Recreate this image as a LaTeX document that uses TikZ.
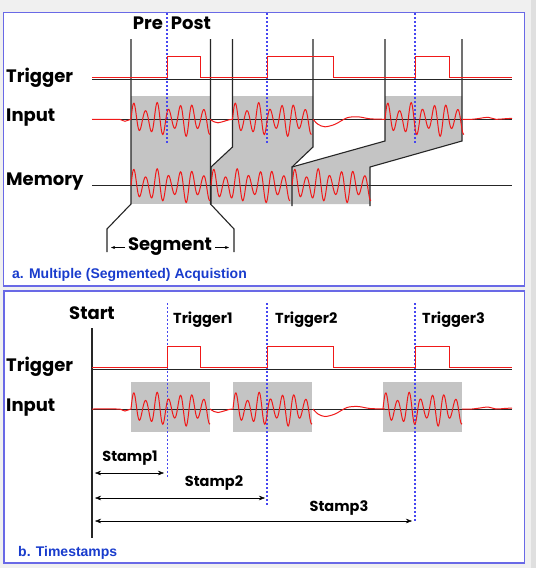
\documentclass[tikz,border=0pt]{standalone}
\usepackage{fontspec}
\usetikzlibrary{arrows.meta}
\newfontfamily\labfont{Poppins}
\newfontfamily\capfont{Liberation Sans}
\definecolor{panelblue}{RGB}{105,105,230}
\definecolor{dotblue}{RGB}{70,70,240}
\definecolor{sigred}{RGB}{240,25,25}
\definecolor{seggray}{RGB}{196,196,196}
\definecolor{capblue}{RGB}{25,60,205}
\definecolor{bggray}{RGB}{240,240,240}
\begin{document}
\begin{tikzpicture}[x=1pt,y=-1pt,>={Stealth[length=6pt,width=4.5pt]}]
\tikzstyle{lab}=[font={\labfont\bfseries\fontsize{18}{20}\selectfont},inner sep=0pt]
\tikzstyle{small}=[font={\labfont\bfseries\fontsize{14.5}{16}\selectfont},inner sep=0pt]
\tikzstyle{captext}=[font={\capfont\bfseries\fontsize{14}{16}\selectfont},text=capblue,inner sep=0pt,anchor=west]
\tikzstyle{panel}=[draw=panelblue,line width=1.4pt,fill=white]
\tikzstyle{base}=[black!85,line width=1pt]
\tikzstyle{bar}=[black!85,line width=1.1pt]
\tikzstyle{wave}=[sigred,line width=1pt]
\tikzstyle{trigline}=[dotblue,dash pattern=on 2pt off 2pt,line width=1.2pt]
\fill[bggray] (0,0) rectangle (536,568);
\fill[gray!25] (531,0) rectangle (536,568);
\draw[panel] (3.5,12.5) rectangle (524.5,286);
\draw[panel] (4,291) rectangle (524.5,563);

\fill[seggray] (131,96) rectangle (210.5,204);
\fill[seggray] (232.5,96) -- (313,96) -- (313,147) -- (292,167) -- (292,204) -- (211,204) -- (211,167) -- (232.5,147) -- cycle;
\fill[seggray] (385,96) -- (462,96) -- (462,141) -- (370,167) -- (370,204) -- (292,204) -- (292,167) -- (385,141) -- cycle;
\fill[seggray] (131,382) rectangle (210,432);
\fill[seggray] (233,382) rectangle (312,432);
\fill[seggray] (383,382) rectangle (462,432);

\node[lab,anchor=west] (trigA) at (6,78) {Trigger};
\node[lab,anchor=west] (inA) at (6,118) {Input};
\node[lab,anchor=west] (memA) at (6,182) {Memory};
\node[lab] (pre) at (148,23) {Pre};
\node[lab] (post) at (191,23) {Post};
\node[lab] (seg) at (170,247) {Segment};
\node[captext] (capA) at (12,275) {a. Multiple (Segmented) Acquistion};

\node[lab,anchor=west] (trigB) at (6,367) {Trigger};
\node[lab,anchor=west] (inB) at (6,408) {Input};
\node[lab] (start) at (92,313) {Start};
\node[small,anchor=west] (t1) at (173,320) {Trigger1};
\node[small,anchor=west] (t2) at (275,320) {Trigger2};
\node[small,anchor=west] (t3) at (422,320) {Trigger3};
\node[small] (s1) at (130,458) {Stamp1};
\node[small] (s2) at (214,483) {Stamp2};
\node[small] (s3) at (339,508) {Stamp3};
\node[captext] (capB) at (18,553) {b. Timestamps};

\foreach \y in {79.3,119.3,185.5,369,409}
  \draw[base] (92,\y) -- (512,\y);

\draw[bar] (131,39) -- (131,204) -- (107,229) -- (107,252);
\draw[bar] (210.5,39) -- (210.5,204) -- (234,229) -- (234,252);
\draw[bar] (232.5,39) -- (232.5,147) -- (211,167) -- (211,204);
\draw[bar] (313,39) -- (313,147) -- (292,167) -- (292,206);
\draw[bar] (385,39) -- (385,141) -- (292,167);
\draw[bar] (462,39) -- (462,141) -- (370,167) -- (370,206);
\draw[bar] (92,328) -- (92,538);

\draw[-{Stealth[length=4pt,width=3pt]}] (125,247.5) -- (111,247.5);
\draw[-{Stealth[length=4pt,width=3pt]}] (215,247.5) -- (229,247.5);

\foreach \x/\e in {167/143,267/143,415/143}
  \draw[trigline] (\x,13) -- (\x,\e);
\foreach \x/\e in {167.5/478,267/505,415/522}
  \draw[trigline] (\x,303) -- (\x,\e);

\foreach \y/\h in {77/56,367/346}
  \draw[wave] (92,\y) -- (167,\y) -- (167,\h) -- (200,\h) -- (200,\y) -- (267,\y) -- (267,\h) -- (333,\h) -- (333,\y) -- (415,\y) -- (415,\h) -- (449,\h) -- (449,\y) -- (512,\y);

\foreach \b in {119.3,409}
{
  \draw[wave] plot[smooth] coordinates {(92,\b) (117,\b) (121,\b+0.5) (125,\b+2) (128,\b+1) (131,\b)};
  \draw[wave] plot[smooth] coordinates {(210,\b) (214,\b+2.5) (218,\b+3.5) (224,\b+2) (229,\b+0.5) (232.5,\b)};
  \draw[wave] plot[smooth] coordinates {(313,\b) (318,\b+5) (325,\b+7.5) (335,\b+5) (347,\b-1.5) (358,\b-2.5) (370,\b-0.5) (385,\b)};
  \draw[wave] plot[smooth] coordinates {(462,\b) (472,\b) (480,\b-1) (488,\b-2) (496,\b) (504,\b-0.5) (512,\b-1)};
}
\foreach \s/\b in {131/119.3,232.5/119.3,385/119.3,131/185.5,211/185.5,292/185.5,131/409,233/409,383/409}
  \draw[wave] plot[domain=0:79,samples=160,smooth] ({\s+\x},{\b-17*sin(\x*31)*(0.75+0.25*cos(\x*13))});

\coordinate (a1) at (95,473);
\coordinate (b1) at (164,473);
\coordinate (a2) at (95,498);
\coordinate (b2) at (265,498);
\coordinate (a3) at (95,521);
\coordinate (b3) at (412,521);
\draw[<->] (a1) -- (b1);
\draw[<->] (a2) -- (b2);
\draw[<->] (a3) -- (b3);
\end{tikzpicture}
\end{document}
